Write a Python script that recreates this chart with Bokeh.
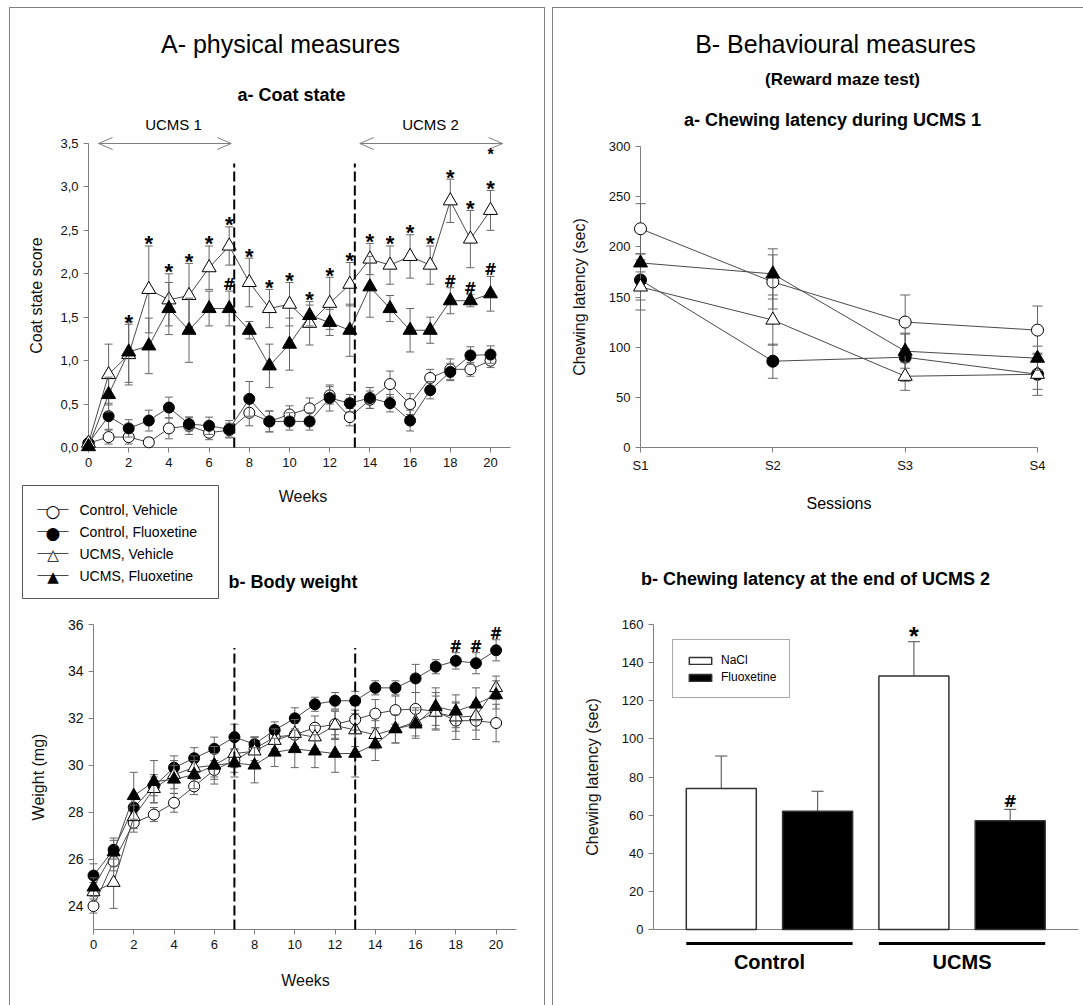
from bokeh.plotting import figure
from bokeh.models import (ColumnDataSource, FixedTicker, CustomJSTickFormatter,
                          Legend, LegendItem, Spacer)
from bokeh.layouts import row, column
from bokeh.core.properties import value
from bokeh.embed import file_html
from bokeh.resources import INLINE

FONT = "Liberation Sans"
MARKFONT = "DejaVu Sans"
AXC = "#7f7f7f"
ERRC = "#666666"
LINEC = "#4a4a4a"
TXT = "#111111"
BORDER = "#808080"

# ---------------- data ----------------
weeks = list(range(21))

coat_ctrl_veh = [0.05, 0.12, 0.12, 0.06, 0.22, 0.25, 0.17, 0.20, 0.40, 0.30, 0.38, 0.45, 0.60, 0.35, 0.55, 0.73, 0.50, 0.80, 0.90, 0.90, 1.00]
coat_ctrl_veh_err = [0.03, 0.08, 0.08, 0.05, 0.12, 0.10, 0.08, 0.08, 0.15, 0.12, 0.10, 0.12, 0.10, 0.10, 0.10, 0.15, 0.12, 0.10, 0.12, 0.08, 0.08]
coat_ctrl_flx = [0.05, 0.36, 0.22, 0.31, 0.46, 0.27, 0.25, 0.21, 0.56, 0.30, 0.30, 0.30, 0.57, 0.51, 0.57, 0.51, 0.31, 0.66, 0.87, 1.06, 1.07]
coat_ctrl_flx_err = [0.03, 0.15, 0.10, 0.12, 0.12, 0.08, 0.10, 0.10, 0.20, 0.12, 0.10, 0.10, 0.15, 0.10, 0.12, 0.10, 0.12, 0.10, 0.10, 0.10, 0.10]
coat_ucms_veh = [0.05, 0.84, 1.07, 1.82, 1.70, 1.75, 2.07, 2.32, 1.90, 1.60, 1.65, 1.43, 1.66, 1.88, 2.17, 2.10, 2.20, 2.10, 2.84, 2.40, 2.73]
coat_ucms_veh_err = [0.03, 0.35, 0.35, 0.50, 0.30, 0.37, 0.25, 0.22, 0.28, 0.22, 0.25, 0.25, 0.30, 0.25, 0.18, 0.22, 0.25, 0.22, 0.25, 0.33, 0.23]
coat_ucms_flx = [0.01, 0.61, 1.10, 1.17, 1.60, 1.35, 1.60, 1.60, 1.35, 0.94, 1.19, 1.52, 1.44, 1.35, 1.85, 1.60, 1.35, 1.35, 1.69, 1.69, 1.77]
coat_ucms_flx_err = [0.02, 0.20, 0.35, 0.32, 0.30, 0.37, 0.20, 0.20, 0.10, 0.25, 0.30, 0.12, 0.15, 0.30, 0.35, 0.15, 0.25, 0.15, 0.15, 0.07, 0.20]

weight_ctrl_veh = [24.0, 25.9, 27.55, 27.9, 28.4, 29.1, 29.8, 30.2, 30.7, 31.2, 31.3, 31.6, 31.75, 31.95, 32.2, 32.35, 32.4, 32.3, 31.9, 31.9, 31.8]
weight_ctrl_veh_err = [0.3, 0.4, 0.4, 0.3, 0.4, 0.35, 0.4, 0.5, 0.5, 0.5, 0.5, 0.5, 0.6, 0.6, 0.6, 0.6, 0.7, 0.8, 0.8, 0.8, 0.8]
weight_ctrl_flx = [25.3, 26.4, 28.2, 29.1, 29.9, 30.3, 30.7, 31.2, 30.9, 31.5, 32.0, 32.6, 32.75, 32.75, 33.3, 33.3, 33.7, 34.2, 34.45, 34.35, 34.9]
weight_ctrl_flx_err = [0.5, 0.4, 0.5, 0.4, 0.5, 0.45, 0.5, 0.55, 0.3, 0.35, 0.45, 0.3, 0.35, 0.4, 0.3, 0.3, 0.6, 0.3, 0.35, 0.45, 0.45]
weight_ucms_veh = [24.6, 25.0, 27.8, 29.0, 29.6, 29.9, 30.0, 30.5, 30.6, 31.05, 31.35, 31.2, 31.7, 31.5, 31.3, 31.55, 31.85, 32.25, 32.05, 32.1, 33.3]
weight_ucms_veh_err = [0.4, 1.1, 0.5, 0.6, 0.6, 0.5, 0.5, 0.6, 0.6, 0.5, 0.6, 0.5, 0.6, 0.7, 0.6, 0.6, 0.6, 0.7, 0.6, 0.6, 0.5]
weight_ucms_flx = [24.8, 26.3, 28.7, 29.3, 29.4, 29.6, 30.0, 30.1, 30.0, 30.55, 30.7, 30.6, 30.5, 30.5, 30.9, 31.55, 31.75, 32.5, 32.3, 32.6, 33.0]
weight_ucms_flx_err = [0.4, 0.6, 1.0, 0.9, 0.6, 0.6, 0.8, 0.6, 0.75, 0.6, 0.8, 0.7, 0.8, 1.0, 0.7, 0.6, 0.6, 0.8, 0.7, 0.7, 0.6]

coat_star_weeks = list(range(2, 21))
coat_hash_weeks = [7, 18, 19, 20]
coat_top_star_weeks = [20]
weight_hash_weeks = [18, 19, 20]
coat_phase_lines = [7.25, 13.25]
coat_phase_top = 3.27
weight_phase_lines = [7, 13]
weight_phase_top = 35.0
ucms_periods = [[0.5, 7.1], [13.5, 20.6]]
ucms_labels = ["UCMS 1", "UCMS 2"]

sessions = ["S1", "S2", "S3", "S4"]
chew_ctrl_veh = [218, 165, 125, 117]
chew_ctrl_veh_err = [25, 27, 27, 24]
chew_ctrl_flx = [167, 86, 90, 73]
chew_ctrl_flx_err = [20, 17, 24, 21]
chew_ucms_veh = [160, 127, 71, 73]
chew_ucms_veh_err = [23, 25, 14, 15]
chew_ucms_flx = [184, 173, 96, 89]
chew_ucms_flx_err = [9, 25, 17, 12]

bar_groups = ["Control", "UCMS"]
bar_treatments = ["NaCl", "Fluoxetine"]
bar_nacl = [74, 133]
bar_nacl_err = [17, 18]
bar_flx = [62, 57]
bar_flx_err = [10.5, 6]
bar_nacl_sig = ["", "*"]
bar_flx_sig = ["", "#"]

series_labels = ["Control, Vehicle", "Control, Fluoxetine", "UCMS, Vehicle", "UCMS, Fluoxetine"]

# ---------------- styles ----------------
series_marker = ["circle", "circle", "triangle", "triangle"]
series_fill = ["white", "black", "white", "black"]
legend_symbol = ["\u25CB", "\u25CF", "\u25B3", "\u25B2"]
legend_symbol_size = [17, 17, 15, 15]


class Frame:
    def __init__(self, left, top, w, h, xr, yr):
        self.left, self.top, self.w, self.h, self.xr, self.yr = left, top, w, h, xr, yr

    def X(self, px):
        return self.xr[0] + (px - self.left) / self.w * (self.xr[1] - self.xr[0])

    def Y(self, py):
        return self.yr[1] - (py - self.top) / self.h * (self.yr[1] - self.yr[0])

    def dx(self, pix):
        return pix / self.w * (self.xr[1] - self.xr[0])

    def dy(self, pix):
        return pix / self.h * (self.yr[1] - self.yr[0])


def mkfig(W, H, xr, yr, ml, mr, mt, mb, page_left, page_top):
    p = figure(width=W, height=H, x_range=xr, y_range=yr, output_backend="svg",
               toolbar_location=None, min_border_left=ml, min_border_right=mr,
               min_border_top=mt, min_border_bottom=mb)
    p.outline_line_color = None
    p.grid.visible = False
    p.background_fill_color = "white"
    p.border_fill_color = "white"
    for ax in p.axis:
        ax.axis_line_color = AXC
        ax.axis_line_width = 1
        ax.major_tick_line_color = AXC
        ax.major_tick_out = 5
        ax.major_tick_in = 0
        ax.minor_tick_line_color = None
        ax.major_label_text_font = FONT
        ax.major_label_text_font_size = "13px"
        ax.major_label_text_color = TXT
        ax.major_label_standoff = 5
        ax.axis_label_text_font = FONT
        ax.axis_label_text_font_style = "normal"
        ax.axis_label_text_font_size = "16px"
        ax.axis_label_text_color = TXT
    fr = Frame(page_left + ml, page_top + mt, W - ml - mr, H - mt - mb, xr, yr)
    return p, fr


def add_texts(p, xs, ys, texts, size, bold=False, align="center", baseline="middle", color="black", font=FONT):
    src = ColumnDataSource(dict(x=list(xs), y=list(ys), t=list(texts)))
    p.text(x="x", y="y", text="t", source=src, text_font=value(font), text_font_size=f"{size}px",
           text_font_style="bold" if bold else "normal", text_align=align,
           text_baseline=baseline, text_color=color, level="overlay")


def draw_series(p, x, y, err, marker, fill, size, cap):
    lo = [a - b for a, b in zip(y, err)]
    hi = [a + b for a, b in zip(y, err)]
    src = ColumnDataSource(dict(x=x, y=y, lo=lo, hi=hi))
    p.segment(x0="x", y0="lo", x1="x", y1="hi", source=src, line_color=ERRC, line_width=1, level="overlay")
    p.scatter(x="x", y="lo", marker="dash", size=cap, line_color=ERRC, line_width=1, source=src, level="overlay")
    p.scatter(x="x", y="hi", marker="dash", size=cap, line_color=ERRC, line_width=1, source=src, level="overlay")
    lr = p.line(x="x", y="y", source=src, line_color=LINEC, line_width=1, level="overlay")
    mr = p.scatter(x="x", y="y", marker=marker, size=size, fill_color=fill, line_color="black",
                   line_width=1, source=src, level="overlay")
    return lr, mr


# Plots stacked in one column share frame borders; the lower plot of each column is
# shifted right by a spacer so that its y axis sits where the original has it.
L_ML, L_MR = 78, 27
R_ML, R_MR = 87, 5
W_SHIFT = 5      # weight panel y axis 5 px right of the coat panel y axis
B_SHIFT = 13     # bar panel y axis 13 px right of the line panel y axis

# ================= A-a  Coat state =================
CW, CH = 534, 592
COAT_PX_WK = 20.1
coat_xr = (0, (CW - L_ML - L_MR) / COAT_PX_WK)
pc, fc = mkfig(CW, CH, coat_xr, (0, 3.5), L_ML, L_MR, 135, 153, 10, 8)
pc.xaxis.ticker = FixedTicker(ticks=weeks[::2])
pc.xaxis.bounds = (0, 21)
pc.yaxis.ticker = FixedTicker(ticks=[k * 0.5 for k in range(8)])
pc.yaxis.formatter = CustomJSTickFormatter(code="return tick.toFixed(1).replace('.', ',');")
pc.xaxis.axis_label = "Weeks"
pc.yaxis.axis_label = "Coat state score"
pc.xaxis.axis_label_standoff = 18
pc.yaxis.axis_label_standoff = 12

coat_sets = [(coat_ctrl_veh, coat_ctrl_veh_err), (coat_ctrl_flx, coat_ctrl_flx_err),
             (coat_ucms_veh, coat_ucms_veh_err), (coat_ucms_flx, coat_ucms_flx_err)]
coat_sizes = [11, 11, 14, 14]
for i, (ys, es) in enumerate(coat_sets):
    draw_series(pc, weeks, ys, es, series_marker[i], series_fill[i], coat_sizes[i], 8)

pc.segment(x0=coat_phase_lines, y0=[0] * len(coat_phase_lines), x1=coat_phase_lines,
           y1=[coat_phase_top] * len(coat_phase_lines), line_color="black", line_width=2,
           line_dash="10 4", level="overlay")

# double-headed UCMS arrows (shaft + open heads)
AY = 3.5
hl, hw = fc.dx(14), fc.dy(6)
sx0, sy0, sx1, sy1 = [], [], [], []
for a, b in ucms_periods:
    sx0 += [a, a, a, b, b]
    sy0 += [AY, AY, AY, AY, AY]
    sx1 += [b, a + hl, a + hl, b - hl, b - hl]
    sy1 += [AY, AY + hw, AY - hw, AY + hw, AY - hw]
pc.segment(x0=sx0, y0=sy0, x1=sx1, y1=sy1, line_color=AXC, line_width=1, level="overlay")
add_texts(pc, [fc.X(173), fc.X(430)], [fc.Y(124)] * 2, ucms_labels, 15)

add_texts(pc, coat_star_weeks,
          [coat_ucms_veh[w] + coat_ucms_veh_err[w] + fc.dy(2) for w in coat_star_weeks],
          ["*"] * len(coat_star_weeks), 22, bold=True, baseline="alphabetic")
add_texts(pc, coat_hash_weeks,
          [coat_ucms_flx[w] + coat_ucms_flx_err[w] + fc.dy(6) for w in coat_hash_weeks],
          ["#"] * len(coat_hash_weeks), 15, bold=True, baseline="alphabetic", font=MARKFONT)
add_texts(pc, coat_top_star_weeks, [AY - fc.dy(11)] * len(coat_top_star_weeks),
          ["*"] * len(coat_top_star_weeks), 16, bold=True, baseline="alphabetic")

add_texts(pc, [fc.X(280)], [fc.Y(43)], ["A- physical measures"], 25)
add_texts(pc, [fc.X(291)], [fc.Y(94)], ["a- Coat state"], 18, bold=True)
add_texts(pc, [fc.X(228)], [fc.Y(581)], ["b- Body weight"], 18, bold=True, align="left")

# legend of the four groups (drawn with glyphs, it sits outside the frames)
LG_L, LG_R, LG_T, LG_B = 22, 218, 485, 598
pc.quad(left=[fc.X(LG_L)], right=[fc.X(LG_R)], top=[fc.Y(LG_T)], bottom=[fc.Y(LG_B)],
        fill_color="white", line_color="#555555", line_width=1, level="overlay")
lg_rows = [fc.Y(509 + 22 * i) for i in range(len(series_labels))]
pc.segment(x0=[fc.X(37)] * 4, y0=lg_rows, x1=[fc.X(68)] * 4, y1=lg_rows,
           line_color=LINEC, line_width=1, level="overlay")
for i in range(len(series_labels)):
    if series_fill[i] == "white":
        add_texts(pc, [fc.X(52.5)], [lg_rows[i] - fc.dy(1)],
                  ["\u25CF" if series_marker[i] == "circle" else "\u25B2"],
                  legend_symbol_size[i] - 2, color="white", font=MARKFONT)
    add_texts(pc, [fc.X(52.5)], [lg_rows[i] - fc.dy(1)], [legend_symbol[i]],
              legend_symbol_size[i], font=MARKFONT)
add_texts(pc, [fc.X(79)] * 4, lg_rows, series_labels, 14, align="left")

# ================= A-b  Body weight =================
WW, WH = 534 - W_SHIFT, 405
W_PX_WK = 20.13
weight_xr = (0, (WW - L_ML - L_MR) / W_PX_WK)
pw, fw = mkfig(WW, WH, weight_xr, (23, 36), L_ML, L_MR, 24, 76, 10 + W_SHIFT, 600)
pw.xaxis.ticker = FixedTicker(ticks=weeks[::2])
pw.xaxis.bounds = (0, 21)
pw.yaxis.ticker = FixedTicker(ticks=list(range(24, 37, 2)))
pw.xaxis.axis_label = "Weeks"
pw.yaxis.axis_label = "Weight (mg)"
pw.xaxis.axis_label_standoff = 20
pw.yaxis.axis_label_standoff = 18
pw.yaxis.major_label_text_font_size = "14px"

weight_sets = [(weight_ctrl_veh, weight_ctrl_veh_err), (weight_ctrl_flx, weight_ctrl_flx_err),
               (weight_ucms_veh, weight_ucms_veh_err), (weight_ucms_flx, weight_ucms_flx_err)]
for i, (ys, es) in enumerate(weight_sets):
    draw_series(pw, weeks, ys, es, series_marker[i], series_fill[i], [11, 11, 13, 13][i], 8)

pw.segment(x0=weight_phase_lines, y0=[23] * len(weight_phase_lines), x1=weight_phase_lines,
           y1=[weight_phase_top] * len(weight_phase_lines), line_color="black", line_width=2,
           line_dash="10 4", level="overlay")
add_texts(pw, weight_hash_weeks,
          [weight_ctrl_flx[w] + weight_ctrl_flx_err[w] + fw.dy(6) for w in weight_hash_weeks],
          ["#"] * len(weight_hash_weeks), 15, bold=True, baseline="alphabetic", font=MARKFONT)

# ================= B-a  Chewing latency during UCMS 1 =================
RW, RH = 530, 552
sx = list(range(1, len(sessions) + 1))
S_PX = 132.33
chew_xr = (1, 1 + (RW - R_ML - R_MR) / S_PX)
pch, fch = mkfig(RW, RH, chew_xr, (0, 300), R_ML, R_MR, 138, 113, 553, 8)
pch.xaxis.ticker = FixedTicker(ticks=sx)
pch.xaxis.bounds = (1, len(sessions))
pch.xaxis.major_label_overrides = {k: s for k, s in zip(sx, sessions)}
pch.yaxis.ticker = FixedTicker(ticks=list(range(0, 301, 50)))
pch.yaxis.axis_label = "Chewing latency (sec)"
pch.yaxis.axis_label_standoff = 18

chew_sets = [(chew_ctrl_veh, chew_ctrl_veh_err), (chew_ctrl_flx, chew_ctrl_flx_err),
             (chew_ucms_veh, chew_ucms_veh_err), (chew_ucms_flx, chew_ucms_flx_err)]
for i, (ys, es) in enumerate(chew_sets):
    draw_series(pch, sx, ys, es, series_marker[i], series_fill[i], [12, 12, 14, 14][i], 10)

add_texts(pch, [(1 + len(sessions)) / 2], [fch.Y(503)], ["Sessions"], 16)
add_texts(pch, [fch.X(835)], [fch.Y(43)], ["B- Behavioural measures"], 25)
add_texts(pch, [fch.X(842)], [fch.Y(79)], ["(Reward maze test)"], 17, bold=True)
add_texts(pch, [fch.X(832)], [fch.Y(119)], ["a- Chewing latency during UCMS 1"], 18, bold=True)

# ================= B-b  Chewing latency at the end of UCMS 2 =================
BW, BH = 530 - B_SHIFT, 445
BAR_W = 0.727
B_PX = 96.3
bar_xr = (0.296, 0.296 + (BW - R_ML - R_MR) / B_PX)
pb, fb = mkfig(BW, BH, bar_xr, (0, 160), R_ML, R_MR, 64, 76, 553 + B_SHIFT, 560)
pb.yaxis.ticker = FixedTicker(ticks=list(range(0, 161, 20)))
pb.yaxis.axis_label = "Chewing latency (sec)"
pb.yaxis.axis_label_standoff = 18
pb.xaxis.ticker = FixedTicker(ticks=[])
pb.xaxis.major_tick_line_color = None
pb.xaxis.major_label_text_font_size = "0px"

pos_nacl = [2 * g + 1 for g in range(len(bar_groups))]
pos_flx = [2 * g + 2 for g in range(len(bar_groups))]
bar_rends = []
for pos, vals, errs, fill, sig, ssize, soff, sfont in [
        (pos_nacl, bar_nacl, bar_nacl_err, "white", bar_nacl_sig, 25, 6, FONT),
        (pos_flx, bar_flx, bar_flx_err, "black", bar_flx_sig, 16, 8, MARKFONT)]:
    hi = [v + e for v, e in zip(vals, errs)]
    src = ColumnDataSource(dict(x=pos, top=vals, hi=hi))
    pb.segment(x0="x", y0="top", x1="x", y1="hi", source=src, line_color=ERRC, line_width=1.2, level="overlay")
    pb.scatter(x="x", y="hi", marker="dash", size=12, line_color=ERRC, line_width=1.2, source=src, level="overlay")
    r = pb.vbar(x="x", top="top", bottom=0, width=BAR_W, source=src, fill_color=fill,
                line_color="#333333", line_width=1.5, level="overlay")
    bar_rends.append(r)
    add_texts(pb, pos, [h + fb.dy(soff) for h in hi], sig, ssize, bold=True, baseline="alphabetic", font=sfont)

gl_y = fb.Y(943)
pb.segment(x0=[p - BAR_W / 2 for p in pos_nacl], y0=[gl_y] * 2, x1=[p + BAR_W / 2 for p in pos_flx],
           y1=[gl_y] * 2, line_color="black", line_width=3, level="overlay")
add_texts(pb, [(a + b) / 2 for a, b in zip(pos_nacl, pos_flx)], [fb.Y(961)] * 2, bar_groups, 20, bold=True)

add_texts(pb, [fb.X(815)], [fb.Y(578)], ["b- Chewing latency at the end of UCMS 2"], 18, bold=True)

blegend = Legend(items=[LegendItem(label=bar_treatments[k], renderers=[bar_rends[k]]) for k in range(2)],
                 location=(672 - fb.left, fb.top + fb.h - 698))
blegend.border_line_color = "#555555"
blegend.border_line_width = 1
blegend.background_fill_color = "white"
blegend.background_fill_alpha = 1
blegend.label_text_font = FONT
blegend.label_text_font_size = "12px"
blegend.label_text_color = "black"
blegend.glyph_width = 28
blegend.glyph_height = 9
blegend.label_height = 14
blegend.label_standoff = 7
blegend.spacing = 3
blegend.padding = 13
blegend.margin = 0
pb.add_layout(blegend)

# ================= layout =================
def vline(h):
    return Spacer(width=1, height=h, styles={"background-color": BORDER})


def hline(w):
    return Spacer(width=w, height=1, styles={"background-color": BORDER})


left_inner = column(pc, row(Spacer(width=W_SHIFT, height=WH), pw))
right_inner = column(pch, row(Spacer(width=B_SHIFT, height=BH), pb))
left_box = column(hline(536), row(vline(997), left_inner, vline(997)))
right_box = column(hline(531), row(vline(997), right_inner))
root = column(Spacer(width=1083, height=7),
              row(Spacer(width=9, height=998), left_box, Spacer(width=7, height=998), right_box))

open("out.html", "w").write(file_html(root, INLINE))
